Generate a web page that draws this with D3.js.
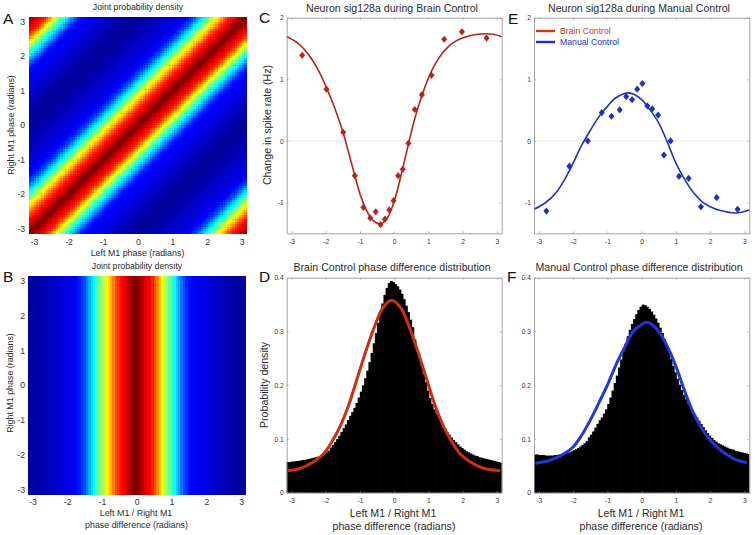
<!DOCTYPE html>
<html><head><meta charset="utf-8">
<script src="https://cdn.jsdelivr.net/npm/d3@7/dist/d3.min.js"></script>
<style>
html,body{margin:0;padding:0;background:#fff}
svg{display:block}
text{font-family:"Liberation Sans",Arial,sans-serif;fill:#2b2b2b}
</style></head><body>
<script>
// Density (0..1 of colour range) by Left-Right phase-difference bin
const densityProfile = [.03,.03,.03,.04,.04,.05,.05,.05,.06,.06,.07,.07,.08,.08,.09,.09,.10,.10,.11,.11,.13,.15,.18,.20,.25,.30,.34,.38,.43,.48,.52,.57,.62,.66,.70,.75,.80,.83,.86,.88,.91,.94,.96,.99,1,.99,.96,.94,.91,.89,.87,.84,.80,.74,.68,.62,.57,.52,.47,.42,.38,.33,.28,.24,.20,.16,.14,.13,.12,.12,.11,.11,.10,.10,.09,.09,.08,.07,.07,.06,.06,.05,.05,.04,.04,.03,.03,.03,.03,.03];
const jetStops = ["#000080","#0000ff","#00ffff","#ffff00","#ff0000","#800000"];
const jetDomain = [0,.125,.375,.625,.875,1];

// Panel C: neuron points and fit
const brainPtX = [-2.69,-1.98,-1.49,-1.15,-.90,-.70,-.54,-.40,-.27,-.145,-.02,.115,.25,.415,.60,.81,1.09,1.46,1.98,2.70];
const brainPtY = [1.39,.84,.14,-.565,-1.08,-1.25,-1.15,-1.36,-1.27,-1.12,-.97,-.565,-.46,-.04,.51,.75,1.065,1.65,1.77,1.67];
const brainFitX = [-3.14,-2.8,-2.5,-2.2,-2,-1.75,-1.5,-1.25,-1,-.8,-.6,-.4,-.2,0,.2,.4,.6,.8,1,1.2,1.4,1.6,1.8,2,2.3,2.6,2.9,3.14];
const brainFitY = [1.69,1.58,1.40,1.13,.89,.55,.15,-.36,-.86,-1.14,-1.3,-1.35,-1.25,-.98,-.56,-.09,.36,.72,1.02,1.25,1.42,1.54,1.62,1.67,1.72,1.74,1.73,1.69];

// Panel E: neuron points and fit
const manualPtX = [-2.78,-2.11,-1.57,-1.165,-.88,-.64,-.45,-.28,-.13,.02,.165,.31,.48,.65,.845,1.09,1.37,1.73,2.19,2.80];
const manualPtY = [-1.14,-.41,0,.46,.40,.505,.72,.67,.84,.93,.57,.52,.42,-.23,0,-.575,-.61,-1.07,-.92,-1.11];
const manualFitX = [-3.14,-2.8,-2.5,-2.2,-2,-1.75,-1.5,-1.25,-1,-.75,-.4,-.2,0,.25,.5,.75,1,1.25,1.5,1.75,2,2.3,2.75,3.14];
const manualFitY = [-1.11,-1.0,-.84,-.58,-.36,-.07,.17,.39,.56,.70,.78,.75,.67,.5,.29,-.02,-.36,-.62,-.83,-.98,-1.07,-1.13,-1.17,-1.12];

// Panels D, F: histogram bars, 100 equal bins over -pi..pi
const brainHist = [.057,.057,.058,.058,.059,.059,.060,.061,.061,.062,.063,.064,.065,.066,.067,.068,.070,.072,.075,.078,.084,.089,.094,.100,.106,.113,.120,.127,.135,.143,.150,.158,.167,.177,.188,.200,.213,.227,.243,.260,.278,.297,.316,.335,.352,.368,.381,.390,.394,.392,.388,.384,.378,.370,.360,.348,.336,.322,.308,.285,.262,.250,.236,.221,.206,.190,.176,.165,.155,.147,.139,.132,.125,.119,.113,.108,.103,.098,.094,.090,.086,.083,.080,.077,.075,.073,.071,.069,.068,.066,.065,.064,.063,.062,.061,.060,.059,.058,.057,.056];
const manualHist = [.071,.071,.070,.070,.070,.069,.069,.069,.069,.070,.070,.071,.071,.072,.073,.074,.075,.077,.079,.081,.083,.086,.089,.092,.096,.103,.108,.114,.121,.128,.135,.140,.147,.155,.165,.177,.190,.204,.218,.233,.248,.263,.277,.291,.303,.314,.323,.332,.340,.346,.350,.349,.346,.342,.337,.331,.324,.316,.307,.297,.286,.274,.262,.249,.236,.224,.212,.201,.191,.182,.174,.166,.159,.152,.146,.140,.134,.128,.122,.116,.111,.106,.102,.098,.095,.092,.090,.088,.086,.084,.082,.081,.080,.078,.077,.076,.075,.074,.073,.072];

const brainDistFitX = [-3.1,-2.8,-2.57,-2.32,-2.07,-1.82,-1.57,-1.32,-1.07,-.82,-.57,-.32,-.07,.18,.43,.68,.93,1.18,1.43,1.68,1.93,2.18,2.43,2.7,3.1];
const brainDistFitY = [.041,.044,.050,.059,.072,.095,.125,.165,.215,.265,.31,.345,.358,.345,.31,.265,.215,.165,.125,.095,.072,.059,.050,.044,.041];
const manualDistFitX = [-3.1,-2.8,-2.5,-2.25,-2,-1.75,-1.5,-1.25,-1,-.75,-.5,-.25,0,.13,.25,.5,.75,1,1.25,1.5,1.75,2,2.25,2.5,2.8,3.07];
const manualDistFitY = [.055,.058,.065,.073,.085,.107,.135,.167,.2,.238,.27,.3,.313,.317,.315,.30,.272,.235,.19,.15,.12,.098,.082,.07,.06,.056];

const phaseTicks = [-3,-2,-1,0,1,2,3];
const rateTicks = [-1,0,1,2];
const densityTicks = [0,.1,.2,.3,.4];
const legendNames = ["Brain Control","Manual Control"];

const RED_DARK="#b3261b", BLUE_DARK="#1f33b8", RED_FIT="#cc2f12", BLUE_FIT="#2038d6";
const FRAME="#8c8c8c";
const svg = d3.select("body").append("svg").attr("width",755).attr("height",535);
const soft = svg.append("defs").append("filter").attr("id","soft")
  .attr("color-interpolation-filters","sRGB")
  .attr("x","0").attr("y","0").attr("width","1").attr("height","1");
soft.append("feGaussianBlur").attr("stdDeviation",.5).attr("edgeMode","duplicate");
const jet = d3.scaleLinear().domain(jetDomain).range(jetStops).clamp(true);
const PI = Math.PI, N = densityProfile.length;

function label(x,y,t,size,opts={}){
  const s = svg.append("text").attr("x",x).attr("y",y).attr("font-size",size)
    .attr("text-anchor",opts.anchor||"middle").style("fill",opts.fill||"#2b2b2b").text(t);
  if(opts.rotate) s.attr("transform",`rotate(-90 ${x} ${y})`);
  return s;
}

function heatmap(x0,x1,y0,y1,cellIndex){
  const x = d3.scaleLinear().domain([-PI,PI]).range([x0,x1]);
  const y = d3.scaleLinear().domain([-PI,PI]).range([y1,y0]);
  const band = d3.range(N);
  const w=(x1-x0)/N, h=(y1-y0)/N;
  const g = svg.append("g").attr("filter","url(#soft)");
  const cells=[];
  band.forEach(i=>band.forEach(j=>cells.push({i,j,v:densityProfile[cellIndex(i,j)]})));
  g.selectAll("rect").data(cells).join("rect")
    .attr("x",d=>x(-PI+d.i*2*PI/N)).attr("y",d=>y(-PI+(d.j+1)*2*PI/N))
    .attr("width",w+.3).attr("height",h+.3).attr("fill",d=>jet(d.v))
    .attr("shape-rendering","crispEdges");
  return {x,y};
}
function heatAxes(sc,tickY,tickXpos){
  const ax = svg.append("g").attr("transform",`translate(0,${tickY})`)
    .call(d3.axisBottom(sc.x).tickValues(phaseTicks).tickSize(0).tickPadding(5));
  ax.select(".domain").remove();
  ax.selectAll("text").attr("font-size",8.7).style("fill","#333").text(d=>String(d));
  const ay = svg.append("g").attr("transform",`translate(${tickXpos},0)`)
    .call(d3.axisLeft(sc.y).tickValues(phaseTicks).tickSize(0).tickPadding(0));
  ay.select(".domain").remove();
  ay.selectAll("text").attr("font-size",8.7).style("fill","#333").text(d=>String(d));
}

function frame(x0,x1,y0,y1,yDomain,yTicks,yFmt){
  const x = d3.scaleLinear().domain([-PI,PI]).range([x0,x1]);
  const y = d3.scaleLinear().domain(yDomain).range([y1,y0]);
  return {x,y,draw(){
    const ticks=(gen,tr)=>{const g=svg.append("g").attr("transform",tr).call(gen);
      g.selectAll("path.domain").attr("stroke",FRAME).attr("stroke-width",.8);
      g.selectAll("line").attr("stroke",FRAME).attr("stroke-width",.6);
      g.selectAll("text").attr("font-size",6.7).style("fill","#333");return g;};
    ticks(d3.axisBottom(x).tickValues(phaseTicks).tickSize(-2).tickSizeOuter(0).tickPadding(6).tickFormat(d=>String(d)),`translate(0,${y1})`);
    ticks(d3.axisTop(x).tickValues(phaseTicks).tickSize(-2).tickSizeOuter(0).tickFormat(""),`translate(0,${y0})`);
    ticks(d3.axisLeft(y).tickValues(yTicks).tickSize(-2).tickSizeOuter(0).tickPadding(3).tickFormat(yFmt),`translate(${x0},0)`);
    ticks(d3.axisRight(y).tickValues(yTicks).tickSize(-2).tickSizeOuter(0).tickFormat(""),`translate(${x1},0)`);
  }};
}

function neuronPanel(x0,x1,ptX,ptY,fitX,fitY,color){
  const f = frame(x0,x1,17.7,233.3,[-1.5,2],rateTicks,d=>String(d));
  svg.append("line").attr("x1",x0).attr("x2",x1).attr("y1",f.y(0)).attr("y2",f.y(0)).attr("stroke","#e4e4e4").attr("stroke-width",.8);
  const line = d3.line().x((d,i)=>f.x(fitX[i])).y((d,i)=>f.y(fitY[i])).curve(d3.curveCatmullRom);
  svg.append("path").datum(fitX).attr("d",line).attr("fill","none").attr("stroke",color).attr("stroke-width",1.6);
  svg.append("g").selectAll("path").data(ptX).join("path")
    .attr("d",d3.symbol(d3.symbolDiamond,15))
    .attr("transform",(d,i)=>`translate(${f.x(d)},${f.y(ptY[i])}) scale(1.45,1)`).attr("fill",color);
  f.draw();
}

function distPanel(x0,x1,hist,fitX,fitY,color){
  const f = frame(x0,x1,277.7,492.7,[0,.4],densityTicks,d=>d===0?"0":d3.format(".1f")(d));
  const w=(x1-x0)/hist.length;
  svg.append("g").selectAll("rect").data(hist).join("rect")
    .attr("x",(d,i)=>f.x(-PI+i*2*PI/hist.length)).attr("width",(d,i)=>i===hist.length-1?w:w+.7)
    .attr("y",d=>f.y(d)).attr("height",d=>f.y(0)-f.y(d)).attr("fill","#000");
  const line = d3.line().x((d,i)=>f.x(fitX[i])).y((d,i)=>f.y(fitY[i])).curve(d3.curveCatmullRom);
  svg.append("path").datum(fitX).attr("d",line).attr("fill","none").attr("stroke",color).attr("stroke-width",3);
  f.draw();
}

// A
const scA = heatmap(29,246.7,16.7,233.5,(i,j)=>((i-j+44)%N+N)%N);
heatAxes(scA,233.5,25);
label(138,10,"Joint probability density",8.7);
label(137.5,255.5,"Left M1 phase (radians)",8.9);
label(13.5,125,"Right M1 phase (radians)",8.9,{rotate:true});
label(3,24,"A",15.5,{anchor:"start",fill:"#111"});
// B
const scB = heatmap(27.5,246,275.7,494.3,(i,j)=>i);
heatAxes(scB,494.3,25);
label(137,268.5,"Joint probability density",8.7);
label(136,516,"Left M1 / Right M1",8.9);
label(136.5,527.5,"phase difference (radians)",8.9);
label(12.5,383,"Right M1 phase (radians)",8.9,{rotate:true});
label(3,282,"B",15.5,{anchor:"start",fill:"#111"});
// C
neuronPanel(286.7,501.7,brainPtX,brainPtY,brainFitX,brainFitY,RED_DARK);
label(392,11.5,"Neuron sig128a during Brain Control",10.6);
label(271,125,"Change in spike rate (Hz)",10.6,{rotate:true});
label(259,23,"C",15.5,{anchor:"start",fill:"#111"});
// D
distPanel(286.7,501.7,brainHist,brainDistFitX,brainDistFitY,RED_FIT);
label(392,271,"Brain Control phase difference distribution",10.6);
label(393,517,"Left M1 / Right M1",10.6);
label(394,530,"phase difference (radians)",10.6);
label(268,385,"Probability density",10.6,{rotate:true});
label(259,282,"D",15.5,{anchor:"start",fill:"#111"});
// E
neuronPanel(534,749.3,manualPtX,manualPtY,manualFitX,manualFitY,BLUE_DARK);
label(639,11.5,"Neuron sig128a during Manual Control",10.6);
label(508,24,"E",15.5,{anchor:"start",fill:"#111"});
// F
distPanel(534,749.3,manualHist,manualDistFitX,manualDistFitY,BLUE_FIT);
label(639,271,"Manual Control phase difference distribution",10.6);
label(641,517,"Left M1 / Right M1",10.6);
label(641,530,"phase difference (radians)",10.6);
label(507,282,"F",15.5,{anchor:"start",fill:"#111"});
// Legend
const legendColors=["#d8321f","#2030c8"], legendY=[31,42];
legendNames.forEach((n,i)=>{
  svg.append("line").attr("x1",536).attr("x2",555).attr("y1",legendY[i]).attr("y2",legendY[i]).attr("stroke",legendColors[i]).attr("stroke-width",2.4);
  label(560,legendY[i]+3,n,8.7,{anchor:"start",fill:legendColors[i]});
});
</script>
</body></html>
